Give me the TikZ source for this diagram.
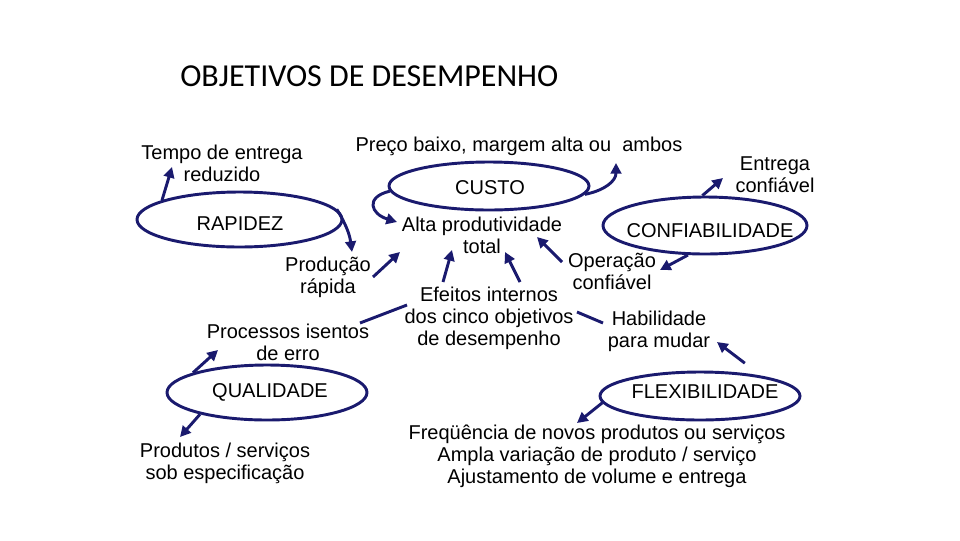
\documentclass[tikz,border=0pt]{standalone}
\usepackage{fontspec}
\setmainfont{Liberation Sans}
\newfontfamily\titlefont{Carlito}
\usetikzlibrary{arrows.meta,shapes.geometric}
\definecolor{navy}{RGB}{26,26,110}
\tikzset{
  lbl/.style={font=\fontsize{15}{16.5}\selectfont, align=center, inner sep=1pt},
  ell/.style={draw=navy, line width=2.2pt, ellipse, inner sep=0pt},
  etxt/.style={font=\fontsize{15}{16.5}\selectfont, inner sep=0pt},
  conn/.style={draw=navy, line width=2.2pt, -{Triangle[length=8pt,width=8pt]}},
  plain/.style={draw=navy, line width=2.2pt}
}
\begin{document}
\begin{tikzpicture}[x=0.75pt,y=-0.75pt]
\useasboundingbox (0,0) rectangle (960,540);
% title
\node[anchor=base west, inner sep=0pt, font=\titlefont\fontsize{24}{28}\selectfont] (title) at (180,86) {OBJETIVOS DE DESEMPENHO};
% ellipses
\node[ell, minimum width=153.75pt, minimum height=41.25pt] (rap) at (239.5,219.5) {};
\node[ell, minimum width=150pt, minimum height=36pt] (custo) at (489,186) {};
\node[ell, minimum width=153pt, minimum height=42.75pt] (conf) at (705,225.5) {};
\node[ell, minimum width=150pt, minimum height=41.25pt] (qual) at (267,392.5) {};
\node[ell, minimum width=150pt, minimum height=36pt] (flex) at (700,396) {};
% ellipse texts
\node[etxt] (rapT) at (240,224) {RAPIDEZ};
\node[etxt] (custoT) at (490,188) {CUSTO};
\node[etxt] (confT) at (710,231) {CONFIABILIDADE};
\node[etxt] (qualT) at (270,392) {QUALIDADE};
\node[etxt] (flexT) at (705,392) {FLEXIBILIDADE};
% labels
\node[lbl] (tempo) at (222,163) {Tempo de entrega\\reduzido};
\node[lbl] (preco) at (519,146) {Preço baixo, margem alta ou \ ambos};
\node[lbl] (entrega) at (775,175) {Entrega\\confiável};
\node[lbl] (alta) at (482,235) {Alta produtividade\\total};
\node[lbl] (prod) at (328,277) {Produção\\rápida};
\node[lbl] (oper) at (612,271) {Operação\\confiável};
\node[lbl] (efe) at (489,318) {Efeitos internos\\dos cinco objetivos\\de desempenho};
\node[lbl] (proc) at (288,342) {Processos isentos\\de erro};
\node[lbl] (habil) at (659,331) {Habilidade\\para mudar};
\node[lbl] (prods) at (225,463) {Produtos / serviços\\sob especificação};
\node[lbl] (freq) at (597,456) {Freqüência de novos produtos ou serviços\\Ampla variação de produto / serviço\\Ajustamento de volume e entrega};
% connectors
\draw[conn] (rap.166) -- ([shift={(-50,4)}]tempo.center);
\draw[conn] (rap.6) to[bend left=12] ([shift={(24,-25)}]prod.center);
\draw[conn] ([shift={(45,0)}]prod.center) -- ([shift={(-82,17)}]alta.center);
\draw[conn] (custo.183) .. controls +(-25,6) and +(-26,-8) .. ([shift={(-85,-13)}]alta.center);
\draw[conn] (custo.-5) .. controls +(20,-4) and +(0,18) .. ([shift={(97,17)}]preco.center);
\draw[conn] (conf.95) -- ([shift={(-52,3)}]entrega.center);
\draw[conn] (conf.240) -- ([shift={(48,-1)}]oper.center);
\draw[conn] ([shift={(-50,-9)}]oper.center) -- ([shift={(55,2)}]alta.center);
\draw[conn] ([shift={(-46,-36)}]efe.center) -- ([shift={(-30,15)}]alta.center);
\draw[conn] ([shift={(31,-36)}]efe.center) -- ([shift={(23,17)}]alta.center);
\draw[plain] ([shift={(72,-19)}]proc.center) -- ([shift={(-82,-13)}]efe.center);
\draw[plain] ([shift={(-56,-8)}]habil.center) -- ([shift={(88,-6)}]efe.center);
\draw[conn] ([shift={(0,-10)}]flex.27) -- ([shift={(58,11)}]habil.center);
\draw[conn] (flex.184) -- ([shift={(-20,-33)}]freq.center);
\draw[conn] (qual.165) -- ([shift={(-70,8)}]proc.center);
\draw[conn] (qual.198) -- ([shift={(-45,-26)}]prods.center);
\end{tikzpicture}
\end{document}
